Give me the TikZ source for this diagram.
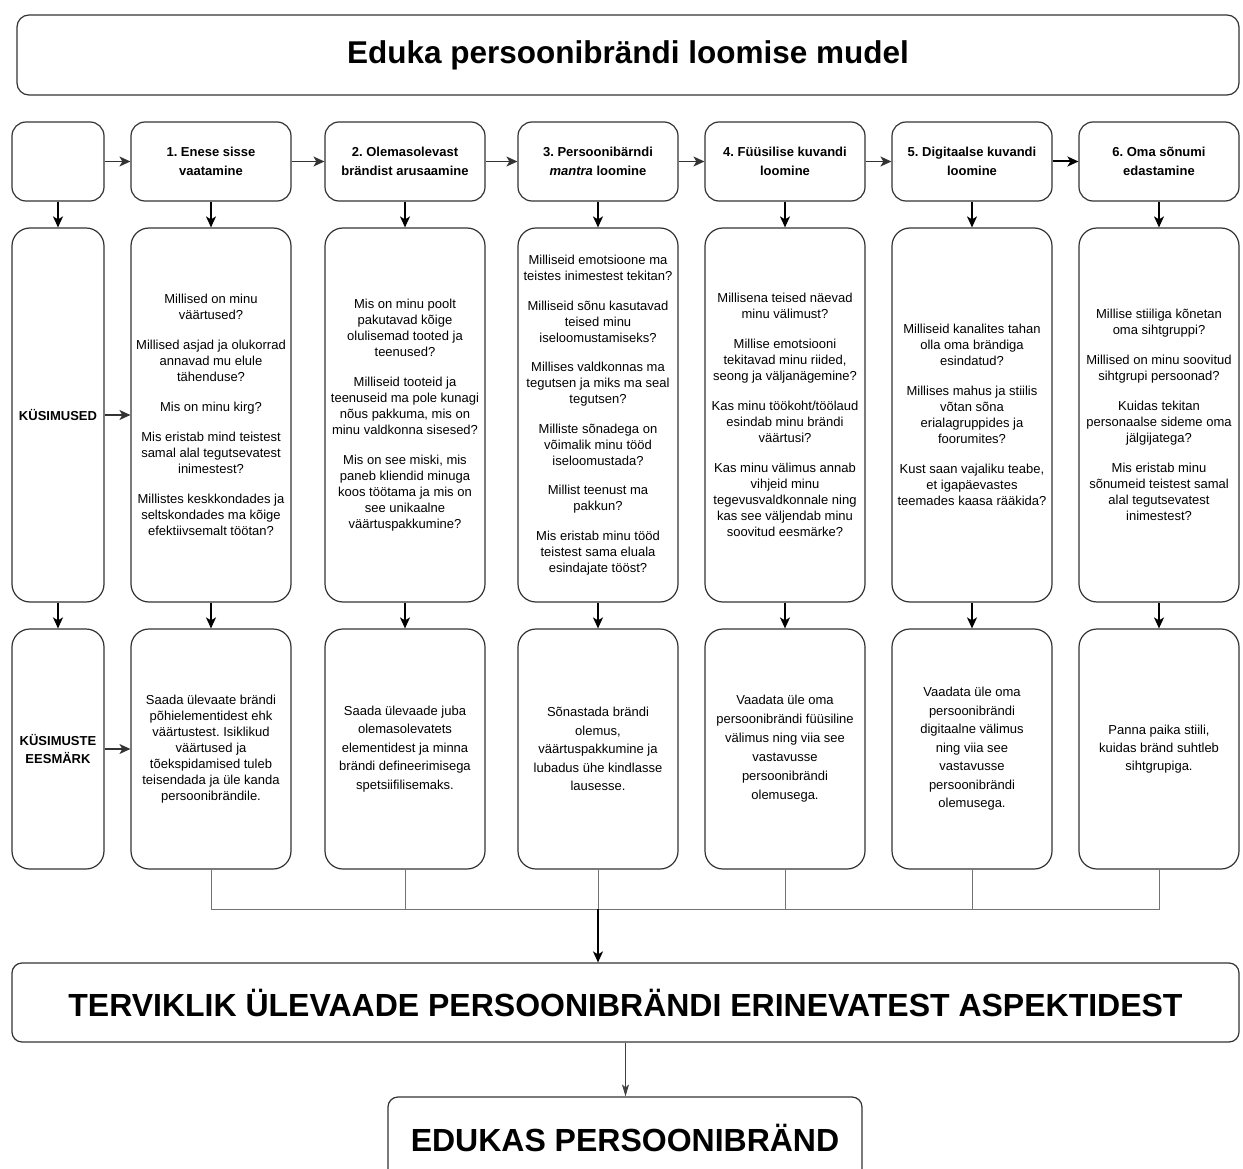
\documentclass[tikz,border=0pt]{standalone}
\usepackage{fontspec}
\setmainfont{Liberation Sans}
\usetikzlibrary{arrows.meta}
\frenchspacing
\begin{document}
\frenchspacing
\begin{tikzpicture}[x=1pt,y=-1pt,
  box/.style={draw=black!80, line width=1.2pt, rounded corners=14pt, align=center, inner sep=2pt, fill=white},
  hdr/.style={box, minimum width=160pt, minimum height=79pt, font=\fontsize{13}{19}\selectfont\bfseries},
  qbox/.style={box, rounded corners=18pt, minimum width=160pt, minimum height=374pt, font=\fontsize{13}{16}\selectfont},
  gbox/.style={box, rounded corners=18pt, minimum width=160pt, minimum height=240pt, font=\fontsize{13}{18.5}\selectfont},
  arr/.style={draw=black, line width=1.5pt, -{Stealth[length=11pt,width=10pt,inset=3pt]}},
  thinarr/.style={draw=black!75, line width=0.9pt, -{Stealth[length=12pt,width=7pt,inset=3pt]}},
  merge/.style={draw=black!55, line width=1pt}
]
\path[use as bounding box, clip] (0,0) rectangle (1243,1169);
\fill[white] (0,0) rectangle (1243,1169);

% title
\node[box, rounded corners=12pt, minimum width=1222pt, minimum height=80pt, font=\fontsize{31.5}{36}\selectfont\bfseries] (title) at (628,55) {Eduka persoonibrändi loomise mudel};

% header row
\node[hdr, minimum width=92pt] (h0) at (58,161.5) {};
\node[hdr] (h1) at (211,161.5) {1. Enese sisse\\vaatamine};
\node[hdr] (h2) at (405,161.5) {2. Olemasolevast\\brändist arusaamine};
\node[hdr] (h3) at (598,161.5) {3. Persoonibärndi\\\textit{mantra} loomine};
\node[hdr] (h4) at (785,161.5) {4. Füüsilise kuvandi\\loomine};
\node[hdr] (h5) at (972,161.5) {5. Digitaalse kuvandi\\loomine};
\node[hdr] (h6) at (1159,161.5) {6. Oma sõnumi\\edastamine};

% question row
\node[qbox, minimum width=92pt, font=\fontsize{13}{18}\selectfont\bfseries] (q0) at (58,415) {KÜSIMUSED};
\node[qbox] (q1) at (211,415) {\raisebox{-1pt}{\parbox{150pt}{\centering Millised on minu\\väärtused?\\[14pt]Millised asjad ja olukorrad\\annavad mu elule\\tähenduse?\\[14pt]Mis on minu kirg?\\[14pt]Mis eristab mind teistest\\samal alal tegutsevatest\\inimestest?\\[14pt]Millistes keskkondades ja\\seltskondades ma kõige\\efektiivsemalt töötan?}}};
\node[qbox] (q2) at (405,415) {\raisebox{7pt}{\parbox{150pt}{\centering Mis on minu poolt\\pakutavad kõige\\olulisemad tooted ja\\teenused?\\[14pt]Milliseid tooteid ja\\teenuseid ma pole kunagi\\nõus pakkuma, mis on\\minu valdkonna sisesed?\\[14pt]Mis on see miski, mis\\paneb kliendid minuga\\koos töötama ja mis on\\see unikaalne\\väärtuspakkumine?}}};
\node[qbox] (q3) at (598,415) {\raisebox{7pt}{\parbox{150pt}{\centering Milliseid emotsioone ma\\teistes inimestest tekitan?\\[13.5pt]Milliseid sõnu kasutavad\\teised minu\\iseloomustamiseks?\\[13.5pt]Millises valdkonnas ma\\tegutsen ja miks ma seal\\tegutsen?\\[13.5pt]Milliste sõnadega on\\võimalik minu tööd\\iseloomustada?\\[13.5pt]Millist teenust ma\\pakkun?\\[13.5pt]Mis eristab minu tööd\\teistest sama eluala\\esindajate tööst?}}};
\node[qbox] (q4) at (785,415) {Millisena teised näevad\\minu välimust?\\[14pt]Millise emotsiooni\\tekitavad minu riided,\\seong ja väljanägemine?\\[14pt]Kas minu töökoht/töölaud\\esindab minu brändi\\väärtusi?\\[14pt]Kas minu välimus annab\\vihjeid minu\\tegevusvaldkonnale ning\\kas see väljendab minu\\soovitud eesmärke?};
\node[qbox] (q5) at (972,415) {Milliseid kanalites tahan\\olla oma brändiga\\esindatud?\\[14pt]Millises mahus ja stiilis\\võtan sõna\\erialagruppides ja\\foorumites?\\[14pt]Kust saan vajaliku teabe,\\et igapäevastes\\teemades kaasa rääkida?};
\node[qbox] (q6) at (1159,415) {Millise stiiliga kõnetan\\oma sihtgruppi?\\[14pt]Millised on minu soovitud\\sihtgrupi persoonad?\\[14pt]Kuidas tekitan\\personaalse sideme oma\\jälgijatega?\\[14pt]Mis eristab minu\\sõnumeid teistest samal\\alal tegutsevatest\\inimestest?};

% goal row
\node[gbox, minimum width=92pt, font=\fontsize{13}{18}\selectfont\bfseries] (g0) at (58,749) {KÜSIMUSTE\\EESMÄRK};
\node[gbox, font=\fontsize{13}{16}\selectfont] (g1) at (211,749) {Saada ülevaate brändi\\põhielementidest ehk\\väärtustest. Isiklikud\\väärtused ja\\tõekspidamised tuleb\\teisendada ja üle kanda\\persoonibrändile.};
\node[gbox] (g2) at (405,749) {Saada ülevaade juba\\olemasolevatets\\elementidest ja minna\\brändi defineerimisega\\spetsiifilisemaks.};
\node[gbox] (g3) at (598,749) {Sõnastada brändi\\olemus,\\väärtuspakkumine ja\\lubadus ühe kindlasse\\lausesse.};
\node[gbox, font=\fontsize{13}{19}\selectfont] (g4) at (785,749) {Vaadata üle oma\\persoonibrändi füüsiline\\välimus ning viia see\\vastavusse\\persoonibrändi\\olemusega.};
\node[gbox] (g5) at (972,749) {Vaadata üle oma\\persoonibrändi\\digitaalne välimus\\ning viia see\\vastavusse\\persoonibrändi\\olemusega.};
\node[gbox, font=\fontsize{13}{18}\selectfont] (g6) at (1159,749) {Panna paika stiili,\\kuidas bränd suhtleb\\sihtgrupiga.};

% bottom boxes
\node[box, rounded corners=10pt, minimum width=1227pt, minimum height=79pt, font=\fontsize{32}{36}\selectfont\bfseries] (big) at (625.5,1002.5) {TERVIKLIK ÜLEVAADE PERSOONIBRÄNDI ERINEVATEST ASPEKTIDEST};
\node[box, rounded corners=10pt, minimum width=474pt, minimum height=82pt, font=\fontsize{32}{36}\selectfont\bfseries] (final) at (625,1138) {EDUKAS PERSOONIBRÄND};

% header arrows
\draw[arr, draw=black!80, line width=1.3pt] (h0) -- (h1);
\draw[arr, draw=black!80, line width=1.3pt] (h1) -- (h2);
\draw[arr, draw=black!80, line width=1.3pt] (h2) -- (h3);
\draw[arr, draw=black!80, line width=1.3pt] (h3) -- (h4);
\draw[arr, draw=black!80, line width=1.3pt] (h4) -- (h5);
\draw[arr, line width=2pt] (h5) -- (h6);

% vertical arrows
\foreach \i in {0,...,6}{
  \draw[arr] (h\i.south) -- (q\i.north);
  \draw[arr] (q\i.south) -- (g\i.north);
}

% row label arrows
\draw[arr, draw=black!80, line width=1.3pt] (q0) -- (q1);
\draw[arr, draw=black!80, line width=1.3pt] (g0) -- (g1);

% merge
\coordinate (m) at (598,909);
\foreach \i in {1,2,4,5,6}{
  \draw[merge] (g\i.south) |- (m);
}
\draw[merge] (g3.south) -- (m);
\draw[arr, line width=1.6pt] (m) -- (m |- big.north);

% to final
\draw[thinarr] (big.south) -- (big.south |- final.north);
\end{tikzpicture}
\end{document}
